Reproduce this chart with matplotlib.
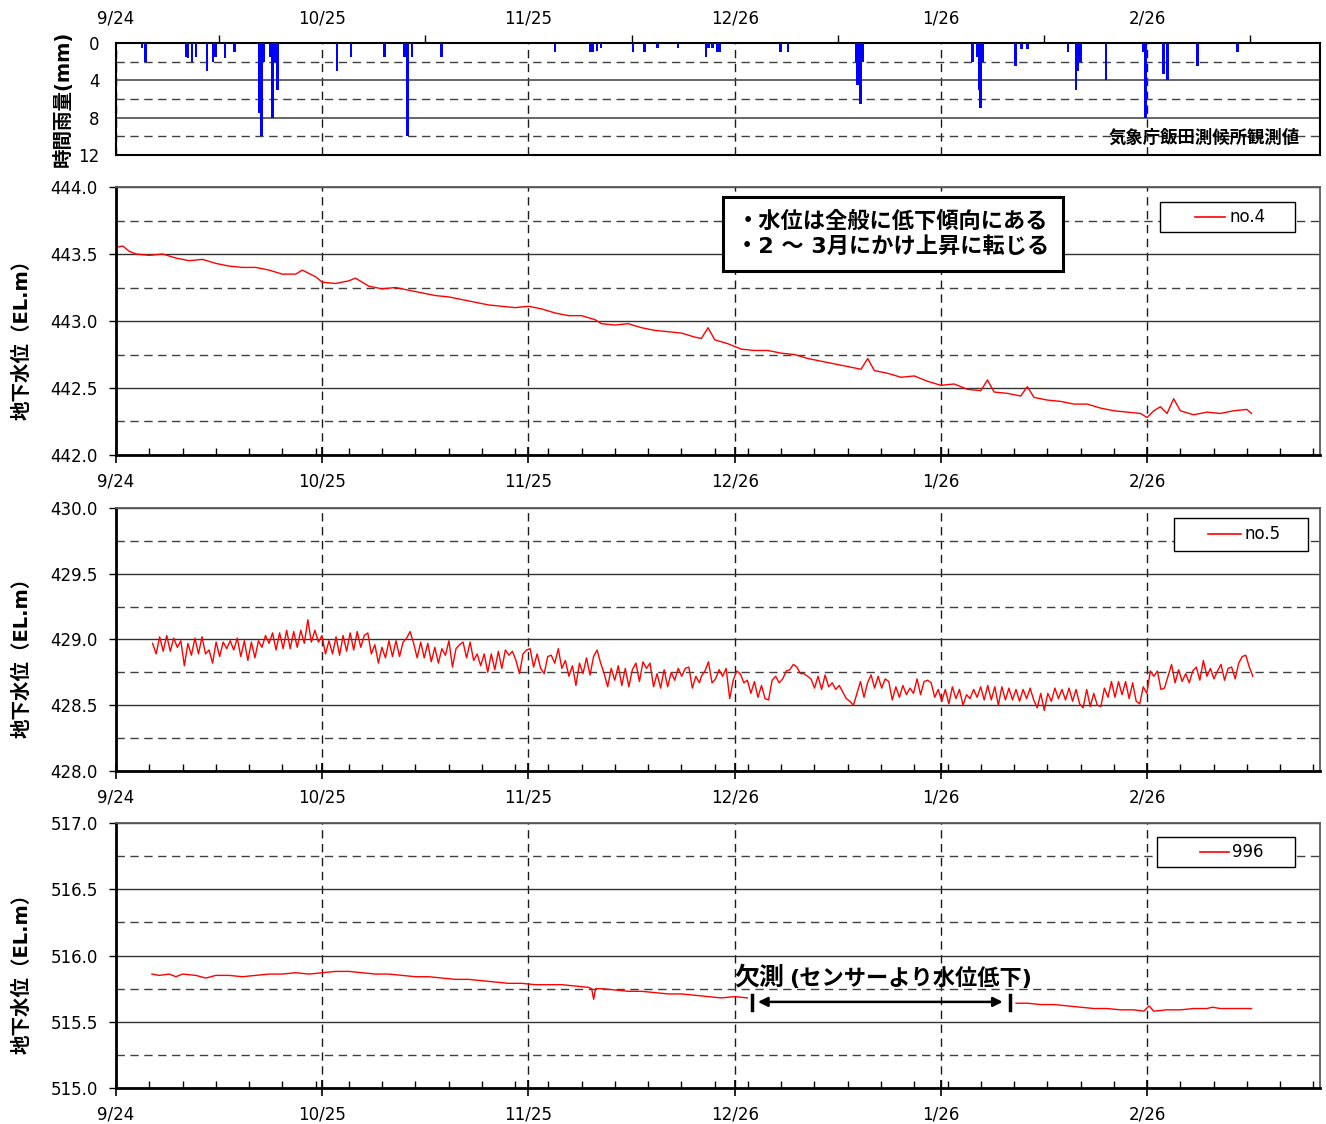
import numpy as np
import matplotlib.pyplot as plt
from matplotlib.ticker import FixedLocator, MultipleLocator, FormatStrFormatter
from matplotlib.lines import Line2D
from matplotlib.patches import Rectangle

# ------------------------------------------------------------
# fonts: latin glyphs from DejaVu, Japanese falls back to Noto CJK
# ------------------------------------------------------------
plt.rcParams["font.family"] = ["DejaVu Sans", "Noto Sans CJK JP"]
plt.rcParams["font.size"] = 12

# ------------------------------------------------------------
# 1) Data (x = days since 9/24)
# ------------------------------------------------------------
tick_days = [0, 31, 62, 93, 124, 155]
tick_labels = ["9/24", "10/25", "11/25", "12/26", "1/26", "2/26"]

# hourly rainfall (mm), Iida weather station
rain_day = [3.9, 4.4, 10.5, 10.8, 11.4, 12.0, 13.7, 14.6, 15.0, 16.4, 17.8,
            21.6, 21.9, 22.2, 23.2, 23.5, 24.0, 24.3, 33.2, 35.3, 40.4,
            43.4, 43.8, 44.5, 48.9, 66.0, 71.3, 71.7, 72.3, 72.9, 77.7,
            79.4, 81.4, 84.5, 88.7, 89.1, 89.7, 90.4, 90.7, 99.9, 101.0,
            111.3, 111.5, 111.9, 112.3, 128.8, 129.5, 129.8, 130.0, 130.3,
            135.2, 136.1, 137.0, 143.1, 144.3, 144.6, 145.0, 148.8, 154.4,
            154.8, 157.5, 158.1, 162.6, 168.6]
rain_mm = [0.5, 2.0, 1.5, 1.6, 2.0, 1.5, 3.0, 2.0, 1.5, 1.6, 1.0,
           7.5, 10.0, 2.0, 1.5, 8.0, 2.0, 5.0, 3.0, 1.5, 1.5,
           1.5, 10.0, 1.5, 1.5, 1.0, 1.0, 1.0, 0.8, 0.5, 1.0,
           1.0, 0.5, 0.5, 1.5, 0.5, 0.5, 1.0, 1.0, 1.0, 1.0,
           2.0, 4.5, 6.5, 2.0, 2.0, 1.5, 5.0, 7.0, 2.0,
           2.5, 0.6, 0.6, 1.0, 5.0, 3.0, 2.0, 4.0, 1.0,
           8.0, 3.3, 4.0, 2.5, 1.0]

# no.4 groundwater level (EL.m)
no4_day = [0, 1, 2, 3, 5, 7, 9, 11, 13, 15, 17, 19, 21, 23, 25, 27, 28, 30,
           31, 33, 35, 36, 38, 40, 42, 44, 46, 48, 50, 52, 54, 56, 58, 60,
           62, 64, 66, 68, 70, 72, 73, 75, 77, 79, 81, 83, 85, 87, 88, 89,
           90, 92, 94, 96, 98, 100, 102, 104, 106, 108, 110, 112, 113, 114,
           116, 118, 120, 122, 124, 126, 128, 130, 131, 132, 134, 136, 137,
           138, 140, 142, 144, 146, 148, 150, 152, 154, 155, 156, 157, 158,
           159, 160, 162, 164, 166, 168, 170, 170.7]
no4_level = [443.55, 443.56, 443.52, 443.50, 443.49, 443.50, 443.47, 443.45,
             443.46, 443.43, 443.41, 443.40, 443.40, 443.38, 443.35, 443.35,
             443.38, 443.33, 443.29, 443.28, 443.30, 443.32, 443.26, 443.24,
             443.25, 443.23, 443.21, 443.19, 443.18, 443.16, 443.14, 443.12,
             443.11, 443.10, 443.11, 443.09, 443.06, 443.04, 443.04, 443.01,
             442.98, 442.97, 442.98, 442.95, 442.93, 442.92, 442.91, 442.88,
             442.87, 442.95, 442.86, 442.83, 442.79, 442.78, 442.78, 442.76,
             442.75, 442.72, 442.70, 442.68, 442.66, 442.64, 442.72, 442.63,
             442.61, 442.58, 442.59, 442.55, 442.52, 442.53, 442.49, 442.48,
             442.56, 442.47, 442.46, 442.44, 442.51, 442.43, 442.41, 442.40,
             442.38, 442.38, 442.35, 442.33, 442.32, 442.31, 442.28, 442.33,
             442.36, 442.31, 442.42, 442.33, 442.30, 442.32, 442.31, 442.33,
             442.34, 442.31]

# no.5 groundwater level (EL.m), sampled about every half day
no5_a_start, no5_a_end = 5.5, 87.7
no5_level_a = [
    428.97, 428.89, 429.02, 428.91, 429.03, 428.91, 429.01, 428.94, 428.99, 428.80,
    428.97, 428.88, 429.01, 428.89, 429.02, 428.89, 428.92, 428.82, 428.98, 428.87,
    428.98, 428.93, 428.99, 428.92, 429.01, 428.87, 428.99, 428.84, 428.98, 428.86,
    428.99, 428.94, 429.03, 428.97, 429.05, 428.92, 429.05, 428.93, 429.07, 428.93,
    429.06, 428.94, 429.07, 428.97, 429.15, 428.98, 429.07, 428.98, 429.03, 428.89,
    428.99, 428.89, 429.02, 428.88, 429.03, 428.91, 429.05, 428.92, 429.06, 428.94,
    429.03, 429.05, 428.89, 428.96, 428.82, 428.94, 428.86, 428.99, 428.87, 428.99,
    428.87, 428.98, 429.01, 429.06, 428.97, 428.86, 428.98, 428.86, 428.97, 428.83,
    428.94, 428.82, 428.93, 428.88, 428.99, 428.79, 428.93, 428.96, 428.98, 428.86,
    428.98, 428.84, 428.89, 428.80, 428.89, 428.75, 428.89, 428.77, 428.91, 428.78,
    428.92, 428.88, 428.91, 428.84, 428.74, 428.89, 428.92, 428.93, 428.79, 428.89,
    428.78, 428.74, 428.87, 428.88, 428.82, 428.93, 428.78, 428.84, 428.72, 428.80,
    428.65, 428.82, 428.74, 428.86, 428.73, 428.87, 428.92, 428.82, 428.74, 428.64,
    428.78, 428.69, 428.80, 428.65, 428.78, 428.64, 428.77, 428.82, 428.68, 428.83,
    428.78, 428.82, 428.64, 428.74, 428.63, 428.77, 428.64, 428.75, 428.69, 428.78,
    428.72, 428.78, 428.79, 428.63, 428.72, 428.67]
no5_b_start, no5_b_end = 88.0, 170.9
no5_level_b = [
    428.72, 428.76, 428.83, 428.67, 428.70, 428.77, 428.72, 428.78, 428.55, 428.69,
    428.76, 428.74, 428.67, 428.69, 428.59, 428.68, 428.56, 428.65, 428.55, 428.54,
    428.69, 428.72, 428.67, 428.70, 428.76, 428.77, 428.81, 428.79, 428.74, 428.74,
    428.72, 428.70, 428.63, 428.72, 428.62, 428.73, 428.64, 428.67, 428.62, 428.65,
    428.60, 428.55, 428.53, 428.50, 428.59, 428.68, 428.56, 428.67, 428.73, 428.63,
    428.72, 428.63, 428.70, 428.68, 428.54, 428.64, 428.56, 428.65, 428.58, 428.63,
    428.59, 428.70, 428.58, 428.68, 428.69, 428.67, 428.56, 428.62, 428.53, 428.62,
    428.51, 428.64, 428.55, 428.62, 428.50, 428.58, 428.55, 428.62, 428.56, 428.64,
    428.54, 428.65, 428.54, 428.64, 428.50, 428.64, 428.54, 428.63, 428.54, 428.62,
    428.53, 428.62, 428.55, 428.63, 428.54, 428.48, 428.59, 428.46, 428.59, 428.53,
    428.63, 428.55, 428.62, 428.54, 428.63, 428.53, 428.62, 428.51, 428.48, 428.62,
    428.49, 428.59, 428.50, 428.49, 428.63, 428.56, 428.68, 428.56, 428.68, 428.58,
    428.68, 428.55, 428.67, 428.53, 428.51, 428.64, 428.59, 428.76, 428.72, 428.76,
    428.62, 428.63, 428.72, 428.81, 428.67, 428.77, 428.68, 428.74, 428.67, 428.76,
    428.79, 428.69, 428.84, 428.72, 428.78, 428.70, 428.76, 428.81, 428.69, 428.78,
    428.79, 428.70, 428.82, 428.87, 428.88, 428.79, 428.72]

# 996 groundwater level (EL.m); gap = missing (sensor below water level)
w996_day_a = [5.4, 6.5, 8, 9, 10, 12, 13.5, 15, 17, 19, 21, 23, 25, 27, 29, 31,
              33, 35, 37, 39, 41, 43, 45, 47, 49, 51, 53, 55, 57, 59, 61, 63,
              65, 67, 69, 71, 71.5, 71.8, 72.1, 73, 75, 77, 79, 81, 83, 85, 87,
              89, 91, 93, 94.9]
w996_level_a = [515.86, 515.85, 515.86, 515.84, 515.86, 515.85, 515.83, 515.85,
                515.85, 515.84, 515.85, 515.86, 515.86, 515.87, 515.86, 515.87,
                515.88, 515.88, 515.87, 515.86, 515.86, 515.85, 515.84, 515.84,
                515.83, 515.82, 515.82, 515.81, 515.80, 515.79, 515.79, 515.78,
                515.78, 515.78, 515.77, 515.76, 515.75, 515.67, 515.75, 515.75,
                515.74, 515.73, 515.73, 515.72, 515.71, 515.71, 515.70, 515.69,
                515.68, 515.69, 515.68]
w996_day_b = [135.3, 137, 139, 141, 143, 145, 147, 149, 151, 153, 154.5, 155.3,
              156, 158, 160, 162, 164, 164.8, 166, 168, 170, 170.7]
w996_level_b = [515.64, 515.64, 515.63, 515.63, 515.62, 515.61, 515.60, 515.60,
                515.59, 515.59, 515.58, 515.62, 515.58, 515.59, 515.59, 515.60,
                515.60, 515.61, 515.60, 515.60, 515.60, 515.60]

# ------------------------------------------------------------
# 2) Figure / axes layout
# ------------------------------------------------------------
fig = plt.figure(figsize=(13.26, 11.24), dpi=100)
ax_rain = fig.add_axes([0.0875, 0.8621, 0.908, 0.0996])
ax4 = fig.add_axes([0.0875, 0.5952, 0.908, 0.2384])
ax5 = fig.add_axes([0.0875, 0.3141, 0.908, 0.2340])
ax996 = fig.add_axes([0.0875, 0.0320, 0.908, 0.2358])

DASH = (0, (6, 4))
ylabel_level = "地下水位（EL.m）"


def style_spines(ax):
    for side in ("left", "bottom"):
        ax.spines[side].set_linewidth(2.0)
        ax.spines[side].set_color("black")
    for side in ("top", "right"):
        ax.spines[side].set_linewidth(1.3)
        ax.spines[side].set_color("0.35")


def setup_level_axis(ax, ymin, ymax):
    ax.set_xlim(0, 181)
    ax.set_ylim(ymin, ymax)
    ax.xaxis.set_major_locator(FixedLocator(tick_days))
    ax.set_xticklabels(tick_labels)
    ax.xaxis.set_minor_locator(MultipleLocator(5))
    ax.set_yticks(np.arange(ymin, ymax + 0.01, 0.5))
    ax.yaxis.set_minor_locator(FixedLocator(np.arange(ymin + 0.25, ymax, 0.5)))
    ax.yaxis.set_major_formatter(FormatStrFormatter("%.1f"))
    ax.tick_params(axis="x", which="major", direction="inout", length=12,
                   width=1.2, pad=6.5, labelsize=12)
    ax.tick_params(axis="x", which="minor", direction="in", length=5, width=1.0)
    ax.tick_params(axis="y", which="major", direction="out", length=5,
                   width=1.0, pad=8, labelsize=12)
    ax.tick_params(axis="y", which="minor", length=0)
    ax.set_axisbelow(True)
    ax.grid(axis="y", which="major", color="0.2", lw=1.0, ls="-")
    ax.grid(axis="y", which="minor", color="0.25", lw=1.0, ls=DASH)
    ax.grid(axis="x", which="major", color="0.1", lw=1.0, ls=DASH)
    style_spines(ax)
    ax.set_ylabel(ylabel_level, fontsize=14, fontweight="bold")
    ax.yaxis.set_label_coords(-0.070, 0.45)


def box_legend(ax, box, line_x, text_x, label):
    x0, y0, x1, y1 = box
    ax.add_patch(Rectangle((x0, y0), x1 - x0, y1 - y0, transform=ax.transAxes,
                           facecolor="white", edgecolor="black", lw=1.0,
                           zorder=5, clip_on=False))
    ym = (y0 + y1) / 2
    ax.add_line(Line2D(line_x, [ym, ym], transform=ax.transAxes, color="red",
                       lw=1.2, zorder=6))
    ax.text(text_x, ym, label, transform=ax.transAxes, ha="left",
            va="center", fontsize=12, zorder=7)


# ------------------------------------------------------------
# 3) Rainfall panel (inverted bars)
# ------------------------------------------------------------
ax_rain.bar(rain_day, rain_mm, width=0.4, color="#0000ff", align="center",
            zorder=3)
ax_rain.set_xlim(0, 181)
ax_rain.set_ylim(12, 0)
ax_rain.set_yticks([0, 4, 8, 12])
ax_rain.yaxis.set_minor_locator(FixedLocator([2, 6, 10]))
ax_rain.xaxis.tick_top()
ax_rain.xaxis.set_major_locator(FixedLocator(tick_days))
ax_rain.set_xticklabels(tick_labels)
ax_rain.xaxis.set_minor_locator(FixedLocator([d + 15.5 for d in tick_days]))
ax_rain.tick_params(axis="x", which="major", length=0, pad=11, labelsize=12)
ax_rain.tick_params(axis="x", which="minor", direction="out", length=6,
                    width=1.0, top=True, bottom=False)
ax_rain.tick_params(axis="y", which="major", length=0, pad=12, labelsize=12)
ax_rain.tick_params(axis="y", which="minor", length=0)
ax_rain.set_axisbelow(True)
ax_rain.grid(axis="y", which="major", color="0.3", lw=1.2, ls="-")
ax_rain.grid(axis="y", which="minor", color="0.25", lw=1.0, ls=DASH)
ax_rain.grid(axis="x", which="major", color="0.1", lw=1.0, ls=DASH)
for side in ax_rain.spines:
    ax_rain.spines[side].set_linewidth(1.5)
    ax_rain.spines[side].set_color("black")
ax_rain.set_ylabel("時間雨量(mm)", fontsize=14, fontweight="bold")
ax_rain.yaxis.set_label_coords(-0.036, 0.5)
ax_rain.text(0.983, 0.15, "気象庁飯田測候所観測値", transform=ax_rain.transAxes,
             ha="right", va="center", fontsize=12.5, fontweight="bold")

# ------------------------------------------------------------
# 4) no.4
# ------------------------------------------------------------
ax4.plot(no4_day, no4_level, color="red", lw=1.0)
setup_level_axis(ax4, 442.0, 444.0)
box_legend(ax4, (0.867, 0.832, 0.979, 0.944), [0.896, 0.921], 0.925, "no.4")
ax4.text(0.645, 0.825, "・水位は全般に低下傾向にある\n・2 ～ 3月にかけ上昇に転じる",
         transform=ax4.transAxes, ha="center", va="center", fontsize=16,
         fontweight="bold", linespacing=1.3, zorder=8,
         bbox=dict(boxstyle="square,pad=0.6", facecolor="white",
                   edgecolor="black", lw=2.2))

# ------------------------------------------------------------
# 5) no.5
# ------------------------------------------------------------
no5_day_a = np.linspace(no5_a_start, no5_a_end, len(no5_level_a))
no5_day_b = np.linspace(no5_b_start, no5_b_end, len(no5_level_b))
ax5.plot(np.concatenate([no5_day_a, no5_day_b]),
         np.concatenate([no5_level_a, no5_level_b]), color="red", lw=1.0)
setup_level_axis(ax5, 428.0, 430.0)
box_legend(ax5, (0.879, 0.837, 0.990, 0.962), [0.907, 0.934], 0.937, "no.5")

# ------------------------------------------------------------
# 6) 996
# ------------------------------------------------------------
ax996.plot(w996_day_a, w996_level_a, color="red", lw=1.0)
ax996.plot(w996_day_b, w996_level_b, color="red", lw=1.0)
setup_level_axis(ax996, 515.0, 517.0)
box_legend(ax996, (0.865, 0.834, 0.979, 0.947), [0.900, 0.924], 0.927, "996")

# missing-data annotation
gap_start, gap_end = 95.6, 134.4
ax996.text(93.0, 515.835, "欠測", ha="left", va="center", fontsize=18,
           fontweight="bold")
ax996.text(101.2, 515.83, "(センサーより水位低下)", ha="left", va="center",
           fontsize=16, fontweight="bold")
ax996.annotate("", xy=(gap_start + 0.9, 515.65), xytext=(gap_end - 1.1, 515.65),
               arrowprops=dict(arrowstyle="<|-|>", color="black", lw=1.8,
                               mutation_scale=14, shrinkA=0, shrinkB=0))
for gx in (gap_start, gap_end):
    ax996.plot([gx, gx], [515.59, 515.70], color="black", lw=2.5)

fig.savefig("out.png", dpi=100)
